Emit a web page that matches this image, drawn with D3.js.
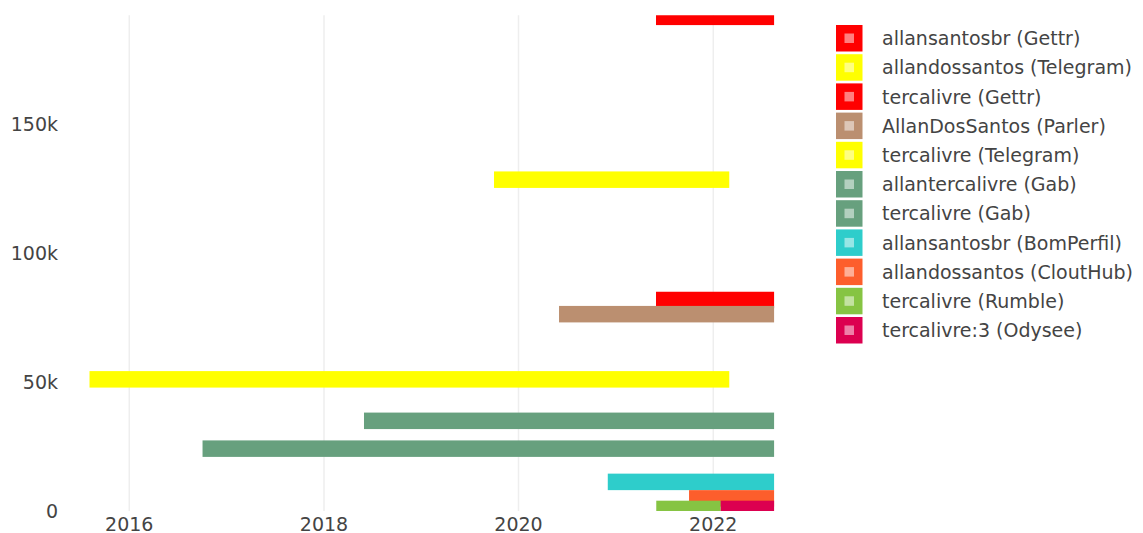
<!DOCTYPE html>
<html>
<head>
<meta charset="utf-8">
<script src="https://d3js.org/d3.v7.min.js"></script>
<style>
  body { margin: 0; background: #fff; }
  text { font-family: "DejaVu Sans", Verdana, sans-serif; fill: #444; }
</style>
</head>
<body>
<svg id="chart" width="1143" height="533"></svg>
<script>

// accounts, in legend / drawing order
var names = ["allansantosbr (Gettr)", "allandossantos (Telegram)", "tercalivre (Gettr)",
  "AllanDosSantos (Parler)", "tercalivre (Telegram)", "allantercalivre (Gab)", "tercalivre (Gab)",
  "allansantosbr (BomPerfil)", "allandossantos (CloutHub)", "tercalivre (Rumble)", "tercalivre:3 (Odysee)"];
var starts = ["2021-05-31", "2019-10-01", "2021-05-31", "2020-06-01", "2015-08-04", "2018-05-31",
  "2016-10-02", "2020-12-01", "2021-10-02", "2021-06-01", "2022-01-29"];
var ends = ["2022-08-18", "2022-03-02", "2022-08-18", "2022-08-18", "2022-03-02", "2022-08-18",
  "2022-08-18", "2022-08-18", "2022-08-18", "2022-01-29", "2022-08-18"];
var followers = [191800, 128600, 81900, 76400, 51100, 35000, 24200, 11300, 4900, 800, 800];
var colors = ["#ff0000", "#ffff00", "#ff0000", "#bb8f70", "#ffff00", "#67a07e", "#67a07e",
  "#2ecdcb", "#fd5e2c", "#86c443", "#dc0050"];

var xTicks = ["2016-01-01", "2018-01-01", "2020-01-01", "2022-01-01"];
var yTicks = [0, 50000, 100000, 150000];
var yTickLabels = ["0", "50k", "100k", "150k"];

var parse = d3.timeParse("%Y-%m-%d");
var rows = names.map(function(n, i) {
  return { name: n, start: parse(starts[i]), end: parse(ends[i]), value: followers[i], color: colors[i] };
});

var plotLeft = 89.3, plotRight = 774.3, plotTop = 15.3, plotBottom = 511;
var barWidth = 6400; // in follower units

var x = d3.scaleTime()
  .domain([d3.min(rows, function(d) { return d.start; }), d3.max(rows, function(d) { return d.end; })])
  .range([plotLeft, plotRight]);
var y = d3.scaleLinear().domain([0, 192400]).range([plotBottom, plotTop]);

var svg = d3.select("#chart");

svg.append("defs").append("clipPath").attr("id", "plot")
  .append("rect")
    .attr("x", plotLeft).attr("y", plotTop)
    .attr("width", plotRight - plotLeft).attr("height", plotBottom - plotTop);

// vertical grid
svg.append("g")
  .selectAll("line")
  .data(xTicks.map(parse))
  .enter().append("line")
    .attr("x1", function(d) { return x(d); })
    .attr("x2", function(d) { return x(d); })
    .attr("y1", plotTop)
    .attr("y2", plotBottom)
    .attr("stroke", "#eee")
    .attr("stroke-width", 1.5);

// bars
svg.append("g")
  .attr("clip-path", "url(#plot)")
  .selectAll("rect")
  .data(rows)
  .enter().append("rect")
    .attr("x", function(d) { return x(d.start); })
    .attr("width", function(d) { return x(d.end) - x(d.start); })
    .attr("y", function(d) { return y(d.value + barWidth / 2); })
    .attr("height", function(d) { return y(d.value - barWidth / 2) - y(d.value + barWidth / 2); })
    .attr("fill", function(d) { return d.color; });

// x tick labels
svg.append("g")
  .selectAll("text")
  .data(xTicks.map(parse))
  .enter().append("text")
    .attr("x", function(d) { return x(d); })
    .attr("y", 530.5)
    .attr("text-anchor", "middle")
    .style("font-size", "19px")
    .text(function(d) { return d3.timeFormat("%Y")(d); });

// y tick labels
svg.append("g")
  .selectAll("text")
  .data(yTicks)
  .enter().append("text")
    .attr("x", 58)
    .attr("y", function(d) { return y(d); })
    .attr("dy", "0.36em")
    .attr("text-anchor", "end")
    .style("font-size", "19px")
    .text(function(d, i) { return yTickLabels[i]; });

// legend
var legend = svg.append("g")
  .selectAll("g")
  .data(rows)
  .enter().append("g")
    .attr("transform", function(d, i) { return "translate(836," + (38.3 + i * 29.2) + ")"; });

legend.append("rect")
  .attr("x", 0).attr("y", -13.3)
  .attr("width", 26.5).attr("height", 26.5)
  .attr("fill", function(d) { return d.color; });

legend.append("rect")
  .attr("x", 8.5).attr("y", -4.8)
  .attr("width", 9.5).attr("height", 9.5)
  .attr("fill", "#fff")
  .attr("fill-opacity", 0.5);

legend.append("text")
  .attr("x", 46)
  .attr("dy", "0.36em")
  .style("font-size", "19px")
  .text(function(d) { return d.name; });

</script>
</body>
</html>
